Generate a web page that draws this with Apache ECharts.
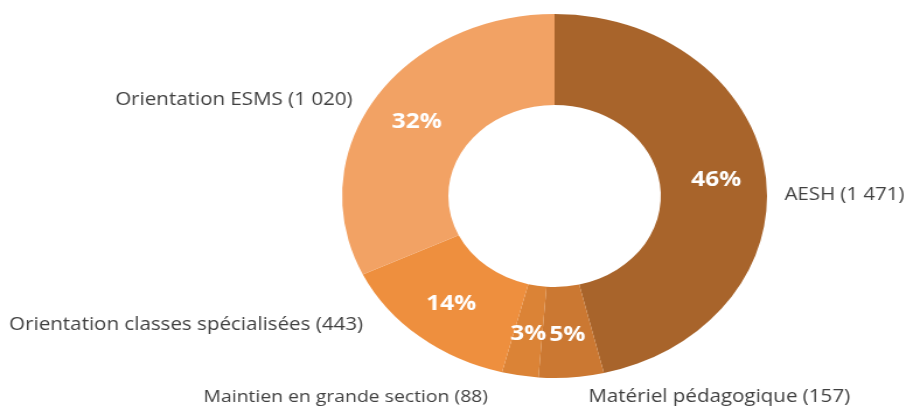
<!DOCTYPE html>
<html>
<head>
<meta charset="utf-8">
<script src="https://cdn.jsdelivr.net/npm/echarts@6/dist/echarts.min.js"></script>
<style>
html,body{margin:0;padding:0;background:#fff;overflow:hidden;}
#chart{width:776px;height:406px;transform:scaleX(1.1675);transform-origin:0 0;}
</style>
</head>
<body>
<div id="chart"></div>
<script>
// Data (clockwise from 12 o'clock)
const categories = ['AESH', 'Matériel pédagogique', 'Maintien en grande section', 'Orientation classes spécialisées', 'Orientation ESMS'];
const values = [1471, 157, 88, 443, 1020];
const valueLabels = ['1 471', '157', '88', '443', '1 020'];
const colors = ['#A8642B', '#CB7832', '#DB8336', '#EE8F3E', '#F2A264'];

// Label anchor positions (chart coordinates before horizontal stretch) and sizes
const labelAnchors = [
  {x: 672, y: 195, align: 'left', size: 17.5},
  {x: 504, y: 397, align: 'left', size: 17.6},
  {x: 418, y: 397, align: 'right', size: 16.6},
  {x: 311, y: 325, align: 'right', size: 17.6},
  {x: 302, y: 100, align: 'right', size: 17.6}
];

const data = categories.map((c, i) => ({name: c, value: values[i], itemStyle: {color: colors[i]}}));

const chart = echarts.init(document.getElementById('chart'));
const center = [475, 196];
const radius = [91, 182];
chart.setOption({
  animation: false,
  series: [
    {
      type: 'pie',
      center: center,
      radius: radius,
      startAngle: 90,
      clockwise: true,
      silent: true,
      itemStyle: {borderWidth: 0},
      label: {
        show: true,
        position: 'inside',
        formatter: p => Math.round(p.percent) + '%',
        color: '#FFFFFF',
        fontFamily: 'Open Sans',
        fontWeight: 'bold',
        fontSize: 21
      },
      labelLine: {show: false},
      data: data
    },
    {
      type: 'pie',
      center: center,
      radius: radius,
      startAngle: 90,
      clockwise: true,
      silent: true,
      itemStyle: {color: 'rgba(0,0,0,0)', borderWidth: 0},
      label: {
        show: true,
        position: 'outside',
        overflow: 'none',
        formatter: p => p.name + ' (' + valueLabels[p.dataIndex] + ')',
        color: '#404040',
        fontFamily: 'Open Sans',
        fontSize: 17
      },
      labelLine: {show: false},
      labelLayout: p => {
        const a = labelAnchors[p.dataIndex];
        return {x: a.x, y: a.y, align: a.align, verticalAlign: 'middle', fontSize: a.size, width: 400};
      },
      data: categories.map((c, i) => ({name: c, value: values[i], itemStyle: {color: 'rgba(0,0,0,0)'}}))
    }
  ]
});
</script>
</body>
</html>
